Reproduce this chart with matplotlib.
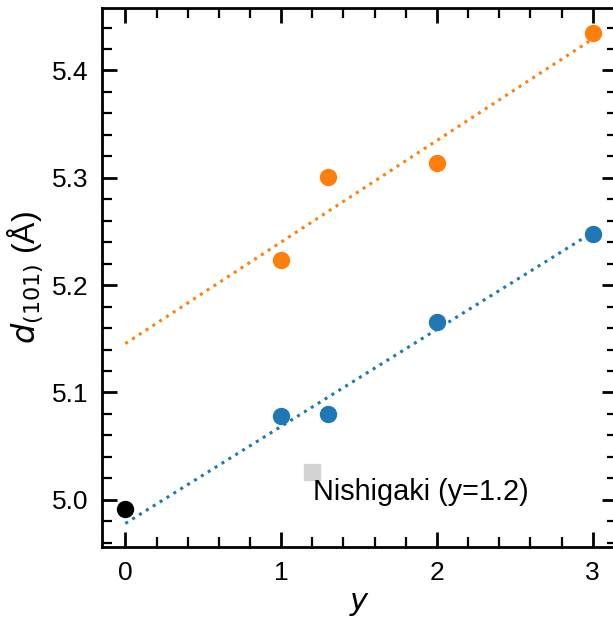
import numpy as np
import matplotlib
matplotlib.use('Agg')
import matplotlib.pyplot as plt
from matplotlib.ticker import MultipleLocator

plt.rcParams['font.family'] = ['Liberation Sans', 'DejaVu Sans']

# Datos
y_naranja = [1.0, 1.3, 2.0, 3.0]
d_naranja = [5.223, 5.301, 5.314, 5.435]
y_azul = [1.0, 1.3, 2.0, 3.0]
d_azul = [5.078, 5.080, 5.166, 5.248]
y_cero, d_cero = [0.0], [4.991]
y_nishigaki, d_nishigaki = [1.2], [5.026]

fig = plt.figure(figsize=(6.13, 6.2), dpi=100)
ax = fig.add_axes([0.1664, 0.1177, 0.840, 0.869])

# Ajustes lineales
x_fit = np.linspace(0, 3, 50)
p_nar = np.polyfit(y_naranja, d_naranja, 1)
p_azu = np.polyfit(y_azul, d_azul, 1)
ax.plot(x_fit, np.polyval(p_nar, x_fit), ':', color='#ff7f0e', lw=2.2)
ax.plot(x_fit, np.polyval(p_azu, x_fit), ':', color='#1f77b4', lw=2.2)

ax.plot(y_naranja, d_naranja, 'o', color='#ff7f0e', ms=11.5)
ax.plot(y_azul, d_azul, 'o', color='#1f77b4', ms=11.5)
ax.plot(y_cero, d_cero, 'o', color='black', ms=11.5)
ax.plot(y_nishigaki, d_nishigaki, 's', color='#d3d3d3', ms=11)
ax.text(1.205, 5.007, 'Nishigaki (y=1.2)', fontsize=20.8, va='center', ha='left')

ax.set_xlim(-0.15, 3.155)
ax.set_ylim(4.956, 5.458)
ax.set_xticks([0, 1, 2, 3])
ax.set_yticks([5.0, 5.1, 5.2, 5.3, 5.4])
ax.xaxis.set_minor_locator(MultipleLocator(0.2))
ax.yaxis.set_minor_locator(MultipleLocator(0.02))
ax.tick_params(which='both', direction='in', top=True, right=True, labelsize=19)
ax.tick_params(which='major', length=11, width=2, pad=10)
ax.tick_params(which='minor', length=7, width=1.6)
for s in ax.spines.values():
    s.set_linewidth(2)

ax.set_xlabel('$y$', fontsize=22, labelpad=2)
ax.set_ylabel(r'$d_{\rm (101)}$ (Å)', fontsize=23, labelpad=5)

fig.savefig('out.png', dpi=100)
